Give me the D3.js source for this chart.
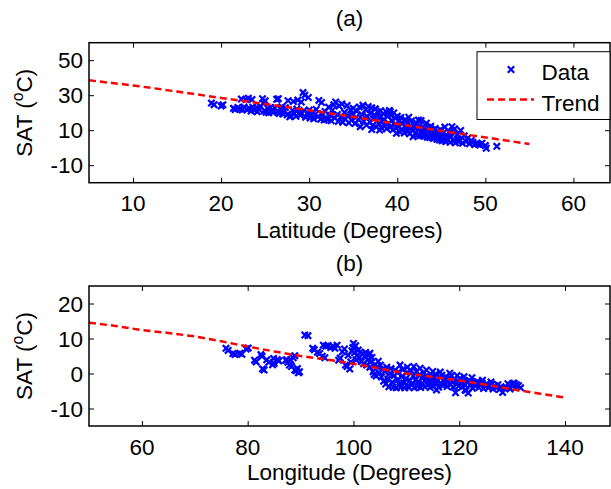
<!DOCTYPE html>
<html><head><meta charset="utf-8">
<script src="https://cdn.jsdelivr.net/npm/d3@7"></script>
<style>
body{margin:0;background:#fff}
text{font-family:"Liberation Sans",Arial,sans-serif;fill:#000}
</style>
</head><body>
<svg id="c" width="611" height="489"></svg>
<script>
// ---------- DATA ----------
const titleA = "(a)", titleB = "(b)";
const xLabelA = "Latitude (Degrees)", xLabelB = "Longitude (Degrees)";
const xTicksA = [10, 20, 30, 40, 50, 60];
const yTicksA = [-10, 10, 30, 50];
const xTicksB = [60, 80, 100, 120, 140];
const yTicksB = [-10, 0, 10, 20];
const legendLabels = ["Data", "Trend"];

// Trend (a): latitude vs SAT
const trendALat = [5, 10, 15, 20, 25, 30, 35, 40, 45, 50, 55];
const trendASat = [38.5, 35.6, 32.1, 28.4, 25.0, 21.4, 17.6, 13.6, 9.6, 5.9, 2.1];
// Trend (b): longitude vs SAT
const trendBLon = [50, 55, 60, 65, 70, 75, 80, 85, 90, 95, 100, 105, 110, 115, 120, 125, 130, 135, 140];
const trendBSat = [14.5, 13.6, 12.4, 11.6, 10.6, 9.2, 7.7, 6.3, 5.0, 4.0, 2.8, 1.4, 0.0, -1.0, -2.0, -3.2, -4.5, -5.7, -6.9];

// Observations (a): [latitude, SAT]
const dataA = [
[18.9,25.5],[19.2,24.6],[20.0,23.8],[20.2,24.5],
[21.4,22.5],[21.6,21.8],[21.9,23.0],[22.1,22.1],[22.3,27.8],[22.4,21.6],[22.6,23.2],[22.8,27.6],[22.9,21.9],
[23.1,28.2],[23.2,22.4],[23.4,20.9],[23.5,27.5],[23.6,23.1],[23.8,21.5],[24.0,22.8],[24.1,20.6],[24.3,21.9],[24.5,23.5],[24.7,28.0],[24.8,25.5],[24.9,21.1],
[25.0,26.8],[25.1,20.3],[25.3,22.4],[25.4,19.9],[25.6,23.0],[25.8,21.3],[25.9,20.1],[26.1,22.7],[26.3,27.7],[26.4,20.6],[26.5,28.0],[26.6,19.6],[26.8,21.8],[26.9,23.4],
[27.0,19.3],[27.2,21.0],[27.3,22.9],[27.5,18.8],[27.6,26.9],[27.8,17.7],[27.9,18.3],[28.1,21.4],[28.2,26.4],[28.3,19.5],[28.5,17.9],[28.6,22.1],[28.7,27.2],[28.9,20.1],[29.0,18.6],[29.1,26.1],
[29.3,31.5],[29.4,21.2],[29.5,30.0],[29.6,17.4],[29.8,19.9],[29.9,28.7],[30.0,21.6],[30.1,17.0],[30.2,18.9],[30.4,20.3],[30.5,16.5],[30.7,19.1],[30.8,21.9],
[31.0,17.8],[31.1,27.0],[31.3,16.3],[31.4,25.8],[31.5,19.4],[31.7,15.8],[31.8,20.7],[31.9,17.2],[32.1,16.0],[32.2,23.2],[32.4,18.5],[32.5,15.4],[32.6,21.3],[32.8,24.6],[32.9,16.9],[33.0,26.1],
[33.2,19.0],[33.3,15.0],[33.4,23.8],[33.6,17.7],[33.7,25.0],[33.8,14.6],[34.0,20.2],[34.1,16.4],[34.3,24.1],[34.4,18.3],[34.5,14.2],[34.7,21.5],[34.8,15.7],[34.9,19.4],
[35.0,22.6],[35.2,13.8],[35.3,17.2],[35.4,20.8],[35.6,16.0],[35.7,23.3],[35.8,12.0],[36.0,18.9],[36.1,24.2],[36.2,15.1],[36.4,21.7],[36.5,12.9],[36.6,17.8],[36.7,23.5],[36.9,14.6],[37.0,20.0],
[37.1,10.4],[37.1,22.8],[37.2,12.6],[37.3,16.5],[37.4,18.8],[37.5,22.2],[37.6,11.9],[37.7,15.2],[37.8,20.3],[37.9,13.8],[38.0,10.1],[38.0,17.6],[38.1,21.1],[38.2,11.3],[38.3,14.9],[38.4,19.4],[38.5,16.2],[38.6,12.4],[38.7,20.7],[38.8,10.8],[38.9,17.9],
[39.0,14.0],[39.1,21.3],[39.2,20.6],[39.2,11.7],[39.3,18.6],[39.4,15.7],[39.5,10.2],[39.6,19.9],[39.7,13.1],[39.8,16.8],[39.9,8.2],[40.0,18.0],[40.1,12.0],[40.2,15.1],[40.3,8.9],[40.4,17.3],[40.5,10.6],[40.6,13.9],[40.8,8.4],[40.9,16.1],
[41.0,11.2],[41.1,14.5],[41.2,9.3],[41.3,17.4],[41.4,7.9],[41.5,12.6],[41.6,15.3],[41.7,10.0],[41.8,6.3],[41.9,13.2],[42.0,11.1],[42.1,8.6],[42.2,14.0],[42.3,7.1],[42.4,15.8],[42.4,10.4],[42.5,12.3],[42.6,6.8],[42.7,15.5],[42.8,9.2],[42.9,11.4],
[43.0,6.5],[43.1,10.7],[43.3,14.0],[43.3,8.0],[43.4,6.0],[43.5,11.6],[43.6,9.1],[43.7,5.8],[43.8,12.2],[43.9,7.6],[44.0,10.1],[44.1,5.3],[44.2,8.4],[44.3,11.0],[44.4,6.6],[44.5,4.8],[44.6,9.5],[44.7,7.2],[44.8,4.4],[44.9,10.3],
[45.0,6.0],[45.1,3.9],[45.2,8.2],[45.3,5.2],[45.4,11.8],[45.5,3.5],[45.6,7.0],[45.7,4.6],[45.9,9.0],[46.0,3.1],[46.1,6.2],[46.2,12.0],[46.4,4.0],[46.5,10.8],[46.6,2.8],[46.8,7.5],[46.9,5.0],
[47.0,3.4],[47.1,4.4],[47.2,9.9],[47.4,2.6],[47.6,6.8],[47.8,3.6],[48.0,5.6],[48.2,2.3],[48.4,4.1],[48.6,3.0],[48.8,1.8],[49.0,2.5],[49.2,2.0],[49.4,1.5],
[49.6,2.6],[50.0,1.2],[50.1,-0.3],[51.3,0.8]
];

// Observations (b): [longitude, SAT]
const dataB = [
[75.9,7.2],[76.3,6.6],[77.2,5.7],[77.6,5.4],[78.5,5.8],[78.9,5.5],[79.7,7.0],[80.1,7.3],
[81.3,3.8],[81.6,3.3],[82.5,5.4],[82.8,1.3],[82.7,4.9],[83.1,1.0],[83.6,3.9],[84.0,3.2],[84.7,2.5],[84.9,4.3],[85.0,2.9],[85.6,4.0],[85.9,3.6],
[87.2,3.8],[87.4,3.9],[87.6,3.2],[87.9,2.4],[88.1,3.9],[88.3,2.0],[88.6,4.5],[88.9,5.1],[88.9,1.0],[89.2,0.8],[89.4,1.4],[89.6,0.2],[89.8,0.5],
[90.8,11.0],[91.4,10.8],[92.3,7.2],[92.6,6.8],[93.2,6.1],[93.6,5.7],[94.1,4.9],[94.3,8.1],[94.6,4.5],[94.8,7.8],[95.2,8.0],[95.7,7.4],[96.2,7.7],[96.5,7.2],[96.9,8.1],
[97.2,3.8],[97.5,4.4],[97.9,6.2],[98.3,7.0],[98.5,2.4],[98.8,2.0],[99.0,5.2],[99.3,1.3],[99.5,3.3],[99.7,6.5],[99.9,7.4],[100.0,8.6],[100.2,5.9],[100.4,7.9],[100.5,3.9],[100.7,5.2],[100.9,6.7],
[101.1,4.5],[101.3,6.1],[101.5,3.4],[101.7,5.6],[101.9,2.8],[102.1,4.9],[102.3,6.0],[102.5,2.4],[102.7,3.9],[102.9,5.3],[103.1,5.8],[103.1,1.8],[103.3,3.3],[103.5,4.6],[103.7,0.5],[103.9,-0.3],[104.1,2.6],[104.3,-0.7],[104.5,1.9],[104.7,3.5],[104.9,0.2],
[105.1,2.4],[105.3,-1.0],[105.5,1.2],[105.7,-2.2],[105.9,0.6],[106.1,-3.0],[106.3,1.8],[106.5,-1.6],[106.7,-3.8],[106.9,0.0],[107.1,1.4],[107.3,-2.5],[107.5,-3.9],[107.7,-0.6],[107.9,1.0],[108.1,-4.1],[108.3,-1.8],[108.5,0.4],[108.7,-3.2],[108.8,2.4],[108.9,-4.0],
[109.1,-0.9],[109.3,1.1],[109.5,-2.7],[109.7,-4.1],[109.9,-1.4],[110.1,0.3],[110.2,1.8],[110.3,-3.6],[110.5,-4.0],[110.7,-2.0],[110.9,0.8],[111.1,-3.1],[111.3,-0.7],[111.4,2.0],[111.5,-4.1],[111.7,-1.9],[111.9,0.5],[112.1,-3.7],[112.3,-2.4],[112.5,-0.3],[112.6,1.5],[112.7,-4.0],[112.9,-1.3],
[113.1,-2.9],[113.3,0.2],[113.5,-3.8],[113.7,-1.7],[113.8,1.0],[113.9,-0.6],[114.1,-3.3],[114.3,-2.2],[114.5,-4.0],[114.7,-0.8],[114.9,-2.6],[115.0,0.6],[115.1,-3.6],[115.3,-1.2],[115.5,-0.2],[115.7,-4.7],[115.7,-3.0],[115.9,-2.0],[116.1,-3.9],[116.3,-1.0],[116.4,0.4],[116.5,-2.7],[116.7,-0.5],[116.9,-3.4],
[117.1,-1.8],[117.3,-2.9],[117.5,-0.9],[117.7,-3.7],[117.9,-2.3],[118.1,-1.3],[118.2,0.1],[118.3,-3.2],[118.5,-0.6],[118.7,-2.5],[118.9,-3.9],[119.1,-1.7],[119.3,-5.5],[119.5,-3.0],[119.6,-0.6],[119.7,-2.1],[119.9,-3.6],[120.1,-1.4],[120.3,-2.7],[120.5,-3.9],[120.7,-2.2],[120.9,-0.9],
[121.1,-4.7],[121.1,-3.3],[121.3,-4.8],[121.5,-2.5],[121.7,-5.6],[121.9,-1.9],[122.2,-3.0],[122.4,-1.2],[122.5,-4.2],[122.8,-2.6],[123.1,-3.6],[123.4,-2.3],[123.7,-4.0],[124.0,-3.1],[124.3,-2.7],[124.4,-1.9],[124.6,-4.3],[124.9,-3.4],
[125.2,-2.9],[125.5,-4.1],[125.8,-3.6],[126.0,-2.4],[126.1,-3.0],[126.4,-4.4],[126.7,-3.5],[127.0,-4.0],[127.3,-3.2],[127.6,-4.6],[127.9,-3.8],[128.2,-5.4],[128.5,-4.2],[128.8,-3.9],[129.2,-2.9],[129.6,-4.4],[130.0,-3.1],[130.2,-2.8],[130.4,-2.8],[130.6,-4.0],[130.8,-3.2],[131.2,-3.5],[131.6,-4.1]
];

// ---------- DRAWING ----------
const svg = d3.select("#c");
const FS = 22.5;
const BLUE = "#0000ff", RED = "#ff0000";
const MARK = "M-3.2,-3.2L3.2,3.2M-3.2,3.2L3.2,-3.2";

function label(x, y, str, anchor){
  // y = visual centre of the text
  return svg.append("text")
    .attr("x", x).attr("y", y + 0.36*FS)
    .attr("text-anchor", anchor).attr("font-size", FS).text(str);
}
function ylabel(x, y){
  const t = svg.append("text")
    .attr("transform", `translate(${x},${y}) rotate(-90)`)
    .attr("text-anchor", "middle").attr("font-size", FS);
  t.append("tspan").text("SAT (");
  t.append("tspan").attr("font-size", FS*0.7).attr("dy", -FS*0.42).text("o");
  t.append("tspan").attr("dy", FS*0.42).text("C)");
  return t;
}

function panel(cfg){
  const x = d3.scaleLinear().domain(cfg.xDomain).range([cfg.left, cfg.right]);
  const y = d3.scaleLinear().domain(cfg.yDomain).range([cfg.bottom, cfg.top]);
  const g = svg.append("g");
  const clipId = "clip" + cfg.id;
  svg.append("clipPath").attr("id", clipId).append("rect")
    .attr("x", cfg.left).attr("y", cfg.top)
    .attr("width", cfg.right - cfg.left).attr("height", cfg.bottom - cfg.top);

  const tl = 5;
  g.append("g").attr("transform", `translate(0,${cfg.bottom})`)
    .call(d3.axisBottom(x).tickValues(cfg.xTicks).tickSize(-tl).tickFormat(""));
  g.append("g").attr("transform", `translate(0,${cfg.top})`)
    .call(d3.axisTop(x).tickValues(cfg.xTicks).tickSize(-tl).tickFormat(""));
  g.append("g").attr("transform", `translate(${cfg.left},0)`)
    .call(d3.axisLeft(y).tickValues(cfg.yTicks).tickSize(-tl).tickFormat(""));
  g.append("g").attr("transform", `translate(${cfg.right},0)`)
    .call(d3.axisRight(y).tickValues(cfg.yTicks).tickSize(-tl).tickFormat(""));
  g.selectAll(".domain").remove();
  g.selectAll(".tick line").attr("stroke", "#000").attr("stroke-width", 1);

  const pts = g.append("g").attr("clip-path", `url(#${clipId})`);
  pts.selectAll("path.m").data(cfg.data).join("path").attr("class","m")
    .attr("transform", d => `translate(${x(d[0])},${y(d[1])})`)
    .attr("d", MARK)
    .attr("stroke", BLUE).attr("stroke-width", 2.2).attr("fill", "none");

  const line = d3.line().x((d,i)=>x(cfg.tx[i])).y((d,i)=>y(cfg.ty[i]));
  pts.append("path").datum(cfg.tx).attr("d", line)
    .attr("fill","none").attr("stroke", RED).attr("stroke-width", 2.5)
    .attr("stroke-dasharray", "7,4");

  g.append("rect").attr("x", cfg.left).attr("y", cfg.top)
    .attr("width", cfg.right - cfg.left).attr("height", cfg.bottom - cfg.top)
    .attr("fill", "none").attr("stroke", "#000").attr("stroke-width", 1.5);

  cfg.xTicks.forEach(v => label(x(v), cfg.xTickY, String(v), "middle"));
  cfg.yTicks.forEach(v => label(cfg.left - 6, y(v), String(v), "end"));
  label((cfg.left + cfg.right)/2, cfg.titleY, cfg.title, "middle");
  label((cfg.left + cfg.right)/2, cfg.xLabelY, cfg.xLabel, "middle");
  ylabel(cfg.yLabelX + 0.36*FS, (cfg.top + cfg.bottom)/2);
  return {x, y};
}

panel({id:"a", left:89, right:610, top:42.7, bottom:182.7,
  xDomain:[5, 64.15], yDomain:[-20, 60], xTicks:xTicksA, yTicks:yTicksA,
  data:dataA, tx:trendALat, ty:trendASat, xTickY:202.7, titleY:18.3,
  title:titleA, xLabel:xLabelA, xLabelY:229.5, yLabelX:24});
panel({id:"b", left:89, right:610, top:286, bottom:426,
  xDomain:[50, 148.5], yDomain:[-15, 25], xTicks:xTicksB, yTicks:yTicksB,
  data:dataB, tx:trendBLon, ty:trendBSat, xTickY:446.7, titleY:263.3,
  title:titleB, xLabel:xLabelB, xLabelY:471.5, yLabelX:24});

// legend in panel (a)
const lg = svg.append("g");
lg.append("rect").attr("x", 477).attr("y", 51.7).attr("width", 133).attr("height", 67.8)
  .attr("fill", "#fff").attr("stroke", "#000").attr("stroke-width", 1);
lg.append("path").attr("transform", "translate(511,69.5)").attr("d", MARK)
  .attr("stroke", BLUE).attr("stroke-width", 2.2);
lg.append("line").attr("x1", 487).attr("x2", 534).attr("y1", 99.5).attr("y2", 99.5)
  .attr("stroke", RED).attr("stroke-width", 2.5).attr("stroke-dasharray", "7,4");
label(541.5, 71.7, legendLabels[0], "start");
label(541.5, 103.3, legendLabels[1], "start");
</script>
</body></html>
